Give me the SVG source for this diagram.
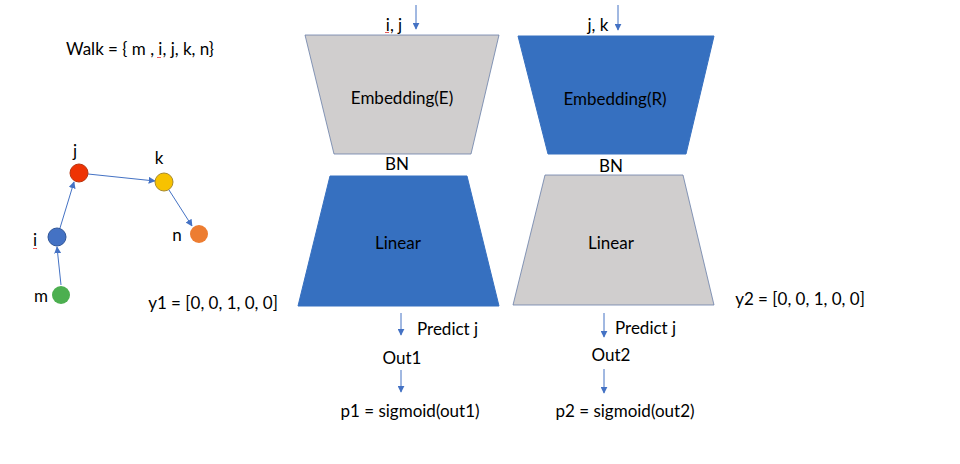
<svg xmlns="http://www.w3.org/2000/svg" width="960" height="464" viewBox="0 0 960 464">
<defs>
<style>
text{font-family:Lato,"Liberation Sans",sans-serif;font-size:17px;fill:#000;}
.c{text-anchor:middle;dominant-baseline:central;}
.l{dominant-baseline:central;}
.edge{stroke:#4472C4;stroke-width:1;fill:none;marker-end:url(#ah);}
.blue{fill:#3670C0;stroke:#3670C0;stroke-width:1;}
.gray{fill:#D0CECE;stroke:#6A7FA8;stroke-width:0.8;}
.sq{stroke:#E03030;stroke-width:0.8;fill:none;}
</style>
<marker id="ah" viewBox="0 0 10 10" refX="9" refY="5" markerWidth="7" markerHeight="7" markerUnits="userSpaceOnUse" orient="auto">
<path d="M0,0 L10,5 L0,10 z" fill="#4472C4"/>
</marker>
</defs>
<rect width="960" height="464" fill="#fff"/>

<g id="walk-label">
<text x="140" y="48" class="c">Walk = { m , i, j, k, n}</text>
<path class="sq" d="M157,57 q1,2 2,0 q1,2 2,0"/>
</g>

<g id="connectors">
<line class="edge" x1="61" y1="285" x2="57" y2="247"/>
<line class="edge" x1="60" y1="228" x2="74" y2="182"/>
<line class="edge" x1="88" y1="174" x2="155" y2="181"/>
<line class="edge" x1="169" y1="190" x2="192" y2="226"/>
<line class="edge" x1="416" y1="5" x2="416" y2="29"/>
<line class="edge" x1="618" y1="5" x2="618" y2="30"/>
<line class="edge" x1="401" y1="313" x2="401" y2="335"/>
<line class="edge" x1="401" y1="370" x2="401" y2="392"/>
<line class="edge" x1="604" y1="313" x2="604" y2="337"/>
<line class="edge" x1="604" y1="369" x2="604" y2="393"/>
</g>

<g id="node-j">
<circle cx="79" cy="173" r="9" fill="#EE3304" stroke="#B8330E" stroke-width="1"/>
<text x="75" y="150" class="c">j</text>
</g>
<g id="node-k">
<circle cx="164" cy="182" r="9" fill="#F7C200" stroke="#A88A2C" stroke-width="1"/>
<text x="159" y="157" class="c">k</text>
</g>
<g id="node-i">
<circle cx="57" cy="237" r="9" fill="#4472C4" stroke="#2F5597" stroke-width="1"/>
<text x="35" y="239" class="c">i</text>
<path class="sq" d="M33,248 q1,2 2,0 q1,2 2,0"/>
</g>
<g id="node-n">
<circle cx="199" cy="234" r="9" fill="#ED7D31"/>
<text x="177" y="234" class="c">n</text>
</g>
<g id="node-m">
<circle cx="61" cy="295" r="9" fill="#4CAF50"/>
<text x="41" y="295" class="c">m</text>
</g>

<g id="y1-label"><text x="213" y="302" class="c">y1 = [0, 0, 1, 0, 0]</text></g>
<g id="y2-label"><text x="800" y="298" class="c">y2 = [0, 0, 1, 0, 0]</text></g>

<g id="input-ij">
<text x="394" y="24" class="c">i, j</text>
<path class="sq" d="M385,32 q1,2 2,0 q1,2 2,0"/>
</g>
<g id="input-jk"><text x="598" y="24" class="c">j, k</text></g>

<g id="embedding-e">
<polygon class="gray" points="305,35 499,35 471,154 334,154"/>
<text x="402" y="97" class="c">Embedding(E)</text>
</g>
<g id="embedding-r">
<polygon class="blue" points="518,36 714,36 686,154 548,154"/>
<text x="615" y="98" class="c">Embedding(R)</text>
</g>

<g id="bn1"><text x="397" y="163" class="c">BN</text></g>
<g id="bn2"><text x="611" y="165" class="c">BN</text></g>

<g id="linear-1">
<polygon class="blue" points="330,176 467,176 499,306 298,306"/>
<text x="398" y="242" class="c">Linear</text>
</g>
<g id="linear-2">
<polygon class="gray" points="545,175 683,175 714,305 513,305"/>
<text x="611" y="242" class="c">Linear</text>
</g>

<g id="predict-1"><text x="417" y="328" class="l">Predict j</text></g>
<g id="predict-2"><text x="615" y="327" class="l">Predict j</text></g>
<g id="out1"><text x="402" y="357" class="c">Out1</text></g>
<g id="out2"><text x="611" y="354" class="c">Out2</text></g>
<g id="p1"><text x="410" y="410" class="c">p1 = sigmoid(out1)</text></g>
<g id="p2"><text x="625" y="410" class="c">p2 = sigmoid(out2)</text></g>
</svg>
